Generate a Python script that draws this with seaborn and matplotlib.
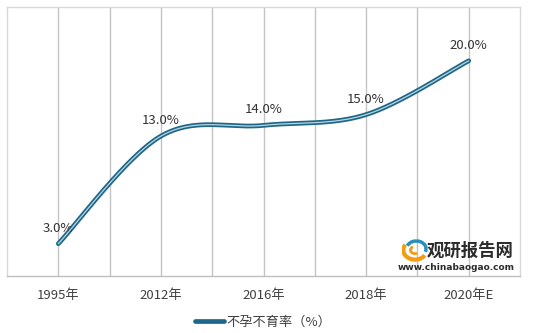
import numpy as np
import pandas as pd
import matplotlib
matplotlib.use("Agg")
import matplotlib.pyplot as plt
import seaborn as sns
from matplotlib.lines import Line2D
from matplotlib.patches import Arc

categories = ["1995年", "2012年", "2016年", "2018年", "2020年E"]
values = [3.0, 13.0, 14.0, 15.0, 20.0]
labels = ["3.0%", "13.0%", "14.0%", "15.0%", "20.0%"]
series_name = "不孕不育率（%）"

sns.set_theme(style="white")
plt.rcParams['font.family'] = ['Noto Sans CJK SC', 'DejaVu Sans']

# Excel-style smoothed line (parametric Bezier with 1/6 handles)
xs = np.arange(len(values), dtype=float)
ys = np.array(values, dtype=float)
pts = np.column_stack([xs, ys])
n = len(pts)
curve = []
for i in range(n - 1):
    p0 = pts[i]
    p3 = pts[i + 1]
    pm = pts[i - 1] if i > 0 else pts[i]
    pp = pts[i + 2] if i + 2 < n else pts[i + 1]
    p1 = p0 + (p3 - pm) / 6.0
    p2 = p3 - (pp - p0) / 6.0
    t = np.linspace(0, 1, 60)[:, None]
    seg = ((1 - t) ** 3) * p0 + 3 * ((1 - t) ** 2) * t * p1 + 3 * (1 - t) * t ** 2 * p2 + t ** 3 * p3
    curve.append(seg if i == 0 else seg[1:])
curve = np.vstack(curve)
df = pd.DataFrame({"x": curve[:, 0], "y": curve[:, 1]})

fig = plt.figure(figsize=(5.49, 3.33), dpi=100)
ax = fig.add_axes([7 / 549, 1 - 276 / 333, 513 / 549, 269 / 333])

# grid lines at categories and midpoints
for g in np.arange(-0.5, 4.51, 0.5):
    if -0.5 < g < 4.5:
        ax.axvline(g, color="#c4c4c4", lw=1.0, zorder=1)

sns.lineplot(data=df, x="x", y="y", ax=ax, color="#1d6889", lw=3.4, sort=False,
             zorder=3, solid_capstyle="round", estimator=None)
sns.lineplot(data=df, x="x", y="y", ax=ax, color="#b9d3df", lw=0.9, sort=False,
             zorder=4, estimator=None)

for xi, yi, lab in zip(xs, ys, labels):
    ax.annotate(lab, (xi, yi), xytext=(0, 6.5), textcoords="offset points",
                ha="center", va="bottom", fontsize=9.5, color="#333333")

ax.set_xlim(-0.5, 4.5)
ax.set_ylim(0, 25)
ax.set_xticks(xs)
ax.set_xticklabels(categories, fontsize=9.5, color="#404040")
ax.set_yticks([])
ax.set_xlabel("")
ax.set_ylabel("")
ax.tick_params(axis="x", length=0, pad=9)
for s in ["left", "top", "right"]:
    ax.spines[s].set_color("#d9d9d9")
    ax.spines[s].set_linewidth(1.0)
ax.spines["bottom"].set_color("#bfbfbf")
ax.spines["bottom"].set_linewidth(1.0)

# watermark
fig.text(470 / 549, 1 - 251 / 333, "观研报告网", fontsize=12.5, fontweight="bold",
         color="#2b2b2b", ha="center", va="center")
fig.text(456 / 549, 1 - 267 / 333, "www.chinabaogao.com", fontsize=6.5, fontweight="bold",
         color="#2b2b2b", ha="center", va="center", family=["DejaVu Sans"])
lax = fig.add_axes([402 / 549, 1 - 262 / 333, 26 / 549, 24 / 333])
lax.set_xlim(-1, 1); lax.set_ylim(-1, 1); lax.axis("off")
lax.add_patch(Arc((0, 0), 1.8, 1.6, theta1=150, theta2=330, color="#f39c12", lw=3))
lax.add_patch(Arc((0.1, 0.1), 1.5, 1.3, theta1=-20, theta2=160, color="#2a8fbd", lw=2.5))
lax.add_patch(Arc((0, 0), 0.7, 0.6, theta1=120, theta2=300, color="#f39c12", lw=2))

# legend
handle = Line2D([0], [0], color="#1d6889", lw=3.4)
leg = fig.legend([handle], [series_name], loc="center", bbox_to_anchor=(263 / 549, 1 - 322 / 333),
                 frameon=False, fontsize=9.5, handlelength=2.2, handletextpad=0.2)
for t in leg.get_texts():
    t.set_color("#404040")

fig.savefig("out.png", dpi=100, facecolor="white")
